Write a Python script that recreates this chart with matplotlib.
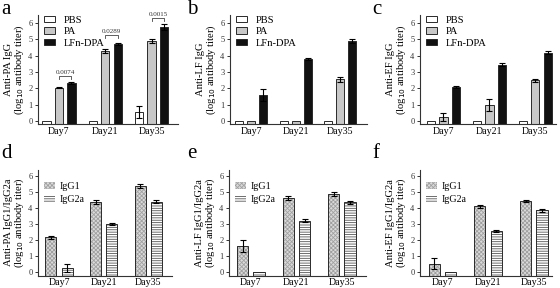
import matplotlib
matplotlib.use("Agg")
import matplotlib.pyplot as plt
import numpy as np

plt.rcParams['font.family'] = ['Liberation Serif', 'DejaVu Serif']
plt.rcParams['hatch.linewidth'] = 0.6

days = ["Day7", "Day21", "Day35"]

# Top row: PBS / PA / LFn-DPA
groups3 = ["PBS", "PA", "LFn-DPA"]
a_vals = {"PBS": [0.0, 0.0, 0.55], "PA": [2.05, 4.30, 4.90], "LFn-DPA": [2.35, 4.70, 5.75]}
a_err = {"PBS": [0.0, 0.0, 0.35], "PA": [0.05, 0.12, 0.12], "LFn-DPA": [0.05, 0.06, 0.17]}
b_vals = {"PBS": [0.0, 0.0, 0.0], "PA": [0.0, 0.0, 2.55], "LFn-DPA": [1.60, 3.80, 4.90]}
b_err = {"PBS": [0.0, 0.0, 0.0], "PA": [0.0, 0.0, 0.15], "LFn-DPA": [0.35, 0.08, 0.10]}
c_vals = {"PBS": [0.0, 0.0, 0.0], "PA": [0.25, 1.00, 2.50], "LFn-DPA": [2.10, 3.45, 4.20]}
c_err = {"PBS": [0.0, 0.0, 0.0], "PA": [0.25, 0.38, 0.10], "LFn-DPA": [0.07, 0.10, 0.10]}

# Bottom row: IgG1 / IgG2a
groups2 = ["IgG1", "IgG2a"]
d_vals = {"IgG1": [2.15, 4.35, 5.35], "IgG2a": [0.25, 3.00, 4.40]}
d_err = {"IgG1": [0.08, 0.12, 0.12], "IgG2a": [0.25, 0.05, 0.10]}
e_vals = {"IgG1": [1.60, 4.62, 4.88], "IgG2a": [0.0, 3.20, 4.35]}
e_err = {"IgG1": [0.35, 0.12, 0.12], "IgG2a": [0.0, 0.10, 0.10]}
f_vals = {"IgG1": [0.50, 4.10, 4.42], "IgG2a": [0.0, 2.55, 3.85]}
f_err = {"IgG1": [0.35, 0.10, 0.08], "IgG2a": [0.0, 0.05, 0.10]}

a_pvals = ["0.0074", "0.0289", "0.0015"]
a_bracket_y = [2.76, 5.27, 6.29]

ylabels = {
    "a": ["Anti-PA IgG", "(log$_{10}$ antibody titer)"],
    "b": ["Anti-LF IgG", "(log$_{10}$ antibody titer)"],
    "c": ["Anti-EF IgG", "(log$_{10}$ antibody titer)"],
    "d": ["Anti-PA IgG1/IgG2a", "(log$_{10}$ antibody titer)"],
    "e": ["Anti-LF IgG1/IgG2a", "(log$_{10}$ antibody titer)"],
    "f": ["Anti-EF IgG1/IgG2a", "(log$_{10}$ antibody titer)"],
}

W, H = 560, 288
fig = plt.figure(figsize=(W / 100, H / 100), dpi=100)

def add_ax(l, r, t, b):
    return fig.add_axes([l / W, 1 - b / H, (r - l) / W, (b - t) / H])

EDGE = "#2a2a2a"
top_style = {"PBS": "white", "PA": "#c8c8c8", "LFn-DPA": "#111111"}

def style_ax(ax, letter, xlim, ylim, lx, ly):
    ax.set_xlim(*xlim)
    ax.set_ylim(*ylim)
    ax.set_yticks(range(0, 7))
    ax.set_xticks(range(3))
    ax.set_xticklabels(days, fontsize=7.2)
    ax.tick_params(axis='x', length=0, pad=2)
    ax.tick_params(axis='y', length=2.5, width=0.7, labelsize=6, pad=1.5, colors="#333333")
    for s in ["top", "right"]:
        ax.spines[s].set_visible(False)
    for s in ["left", "bottom"]:
        ax.spines[s].set_linewidth(0.8)
        ax.spines[s].set_color("#333333")
    ax.set_ylabel("\n".join(ylabels[letter]), fontsize=7.6, labelpad=1.5, linespacing=1.0)
    fig.text(lx / W, 1 - ly / H, letter, fontsize=15, va="top", ha="left")

def draw_top(ax, vals, errs, letter, xlim, lx):
    base = -0.2
    width = 0.18
    offs = [-0.27, 0.0, 0.27]
    x = np.arange(3)
    for g, o in zip(groups3, offs):
        v = np.array(vals[g])
        ax.bar(x + o, v - base, bottom=base, width=width, color=top_style[g],
               edgecolor=EDGE, linewidth=0.7, label=g, zorder=2)
        e = np.array(errs[g])
        m = e > 0
        ax.errorbar((x + o)[m], v[m], yerr=e[m], fmt="none", ecolor="black",
                    elinewidth=0.8, capsize=2.2, capthick=0.8, zorder=3)
    style_ax(ax, letter, xlim, (base, 6.5), lx, 0)
    ax.legend(loc="upper left", bbox_to_anchor=(0.0, 1.05), frameon=False,
              fontsize=7.6, handlelength=1.0, handleheight=0.55,
              labelspacing=0.22, handletextpad=0.8, borderaxespad=0.2)
    return offs

def draw_bottom(ax, vals, errs, letter, xlim, lx):
    base = -0.25
    width = 0.245
    offs = [-0.18, 0.18]
    x = np.arange(3)
    hatches = {"IgG1": "xxxxxxxx", "IgG2a": "-------"}
    faces = {"IgG1": "#dadada", "IgG2a": "white"}
    hcol = {"IgG1": "#a0a0a0", "IgG2a": "#555555"}
    handles = []
    for g, o in zip(groups2, offs):
        v = np.array(vals[g])
        ax.bar(x + o, v - base, bottom=base, width=width, color=faces[g],
               edgecolor=hcol[g], hatch=hatches[g], linewidth=0, zorder=2)
        ax.bar(x + o, v - base, bottom=base, width=width, fill=False,
               edgecolor=EDGE, linewidth=0.7, zorder=2.5)
        e = np.array(errs[g])
        m = e > 0
        ax.errorbar((x + o)[m], v[m], yerr=e[m], fmt="none", ecolor="black",
                    elinewidth=0.8, capsize=2.5, capthick=0.8, zorder=3)
        handles.append(matplotlib.patches.Rectangle((0, 0), 1, 1, facecolor=faces[g],
                       edgecolor=hcol[g], hatch=hatches[g], linewidth=0))
    style_ax(ax, letter, xlim, (base, 6.4), lx, 144)
    ax.legend(handles, groups2, loc="upper left", bbox_to_anchor=(0.0, 0.94),
              frameon=False, fontsize=7.2, handlelength=1.1, handleheight=0.7,
              labelspacing=0.35, handletextpad=0.5, borderaxespad=0.2)

ax_a = add_ax(38, 178, 15, 124.3)
offs = draw_top(ax_a, a_vals, a_err, "a", (-0.45, 2.57), 1)
# p-value brackets in panel a
for i, (p, yb) in enumerate(zip(a_pvals, a_bracket_y)):
    x1, x2 = i + offs[1], i + offs[2]
    ax_a.plot([x1, x1, x2, x2], [yb - 0.18, yb, yb, yb - 0.18], color="#444444",
              lw=0.6, clip_on=False, zorder=4)
    ax_a.text((x1 + x2) / 2, yb + 0.08, p, ha="center", va="bottom", fontsize=5,
              color="#333333", clip_on=False)

ax_b = add_ax(230, 367, 15, 124.3)
draw_top(ax_b, b_vals, b_err, "b", (-0.47, 2.6), 187)
ax_c = add_ax(420, 556, 15, 124.3)
draw_top(ax_c, c_vals, c_err, "c", (-0.51, 2.45), 372)

ax_d = add_ax(38, 172, 169.7, 275.5)
draw_bottom(ax_d, d_vals, d_err, "d", (-0.47, 2.53), 1)
ax_e = add_ax(229, 366, 169.7, 275.5)
draw_bottom(ax_e, e_vals, e_err, "e", (-0.48, 2.53), 187)
ax_f = add_ax(420, 552, 169.7, 275.5)
draw_bottom(ax_f, f_vals, f_err, "f", (-0.49, 2.4), 372)

fig.savefig("out.png", dpi=100)
